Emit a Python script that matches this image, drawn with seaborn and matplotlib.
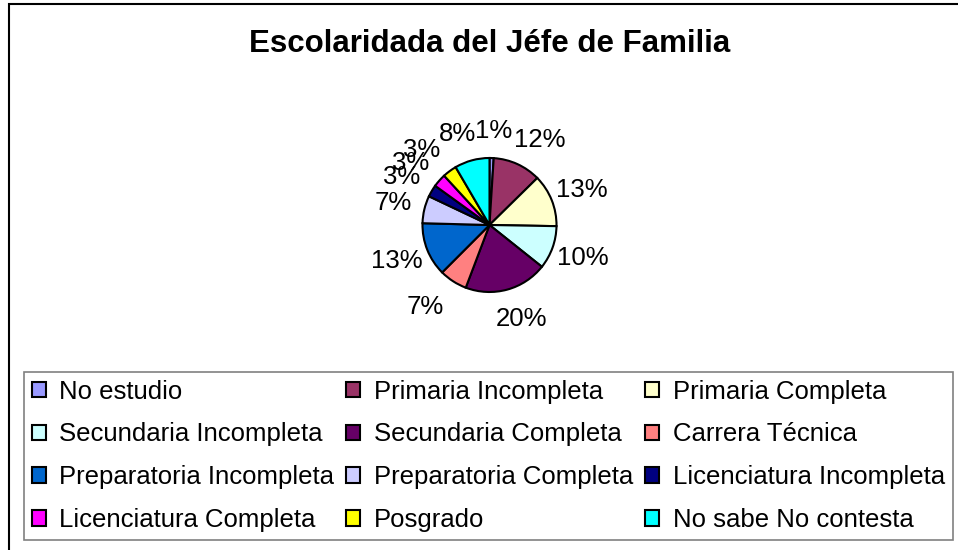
import matplotlib
matplotlib.use("Agg")
import numpy as np
import matplotlib.pyplot as plt
import matplotlib.patches as mpatches
import seaborn as sns

# data (slice shares, labels round them)
categories = ["No estudio", "Primaria Incompleta", "Primaria Completa",
              "Secundaria Incompleta", "Secundaria Completa", "Carrera Técnica",
              "Preparatoria Incompleta", "Preparatoria Completa",
              "Licenciatura Incompleta", "Licenciatura Completa", "Posgrado",
              "No sabe No contesta"]
shares = [1.0, 11.6, 12.6, 10.4, 20.0, 6.7, 12.9, 6.6, 2.9, 3.2, 3.4, 8.4]
colors = ["#9999FF", "#993366", "#FFFFCC", "#CCFFFF", "#660066", "#FF8080",
          "#0066CC", "#CCCCFF", "#000080", "#FF00FF", "#FFFF00", "#00FFFF"]
title = "Escolaridada del Jéfe de Familia"

sns.set_theme(style="white")
plt.rcParams["font.family"] = ["Liberation Sans", "DejaVu Sans"]
plt.rcParams["text.color"] = "black"

W, H = 958, 550
fig = plt.figure(figsize=(W / 100, H / 100), dpi=100)
fig.patch.set_facecolor("white")

# outer chart border (runs off the right and bottom edges)
fig.patches.append(mpatches.Rectangle((9 / W, -0.1), 2, 0.1 + (H - 4) / H,
                                      transform=fig.transFigure, fill=False,
                                      edgecolor="black", linewidth=1.5))

fig.text(490 / W, 1 - 52 / H, title, ha="center", va="baseline",
         fontsize=22.5, fontweight="bold", color="black")

# pie: centre (489.5, 225) px, radius 67 px
r = 67
cx, cy = 489.5, 225
ax = fig.add_axes([(cx - r) / W, (H - cy - r) / H, 2 * r / W, 2 * r / H])
wedges, texts, autotexts = ax.pie(
    shares, colors=colors, startangle=90, counterclock=False,
    autopct="%1.0f%%",
    wedgeprops=dict(edgecolor="black", linewidth=1.5),
    textprops=dict(fontsize=18.5, color="black"))
ax.set_xlim(-1, 1)
ax.set_ylim(-1, 1)
ax.set_aspect("equal")
ax.axis("off")

# Excel-like label placement: text box pushed outward from a point past the rim
d, hw = 1.10, 0.36
for w, t in zip(wedges, autotexts):
    a = np.deg2rad((w.theta1 + w.theta2) / 2)
    ux, uy = np.cos(a), np.sin(a)
    hh = 0.30 if uy > 0 else 0.36
    t.set_position((ux * d + hw * np.clip(2 * ux, -1, 1), uy * (d + hh)))
    t.set_ha("center")
    t.set_va("center")

# legend filled row by row like the original
handles = [mpatches.Patch(facecolor=c, edgecolor="black", linewidth=1.5) for c in colors]
ncol = 3
order = [i for c in range(ncol) for i in range(c, len(categories), ncol)]
leg = fig.legend([handles[i] for i in order], [categories[i] for i in order],
                 ncol=ncol, loc="upper left",
                 bbox_to_anchor=(24 / W, 1 - 372 / H),
                 fontsize=18.5, frameon=True, fancybox=False,
                 edgecolor="#808080", framealpha=1, borderpad=0.3,
                 labelspacing=0.73, handlelength=0.55, handleheight=0.55,
                 handletextpad=0.53, borderaxespad=0, columnspacing=0.46)
leg.get_frame().set_linewidth(1.2)
for txt in leg.get_texts():
    txt.set_color("black")

fig.savefig("out.png", dpi=100)
